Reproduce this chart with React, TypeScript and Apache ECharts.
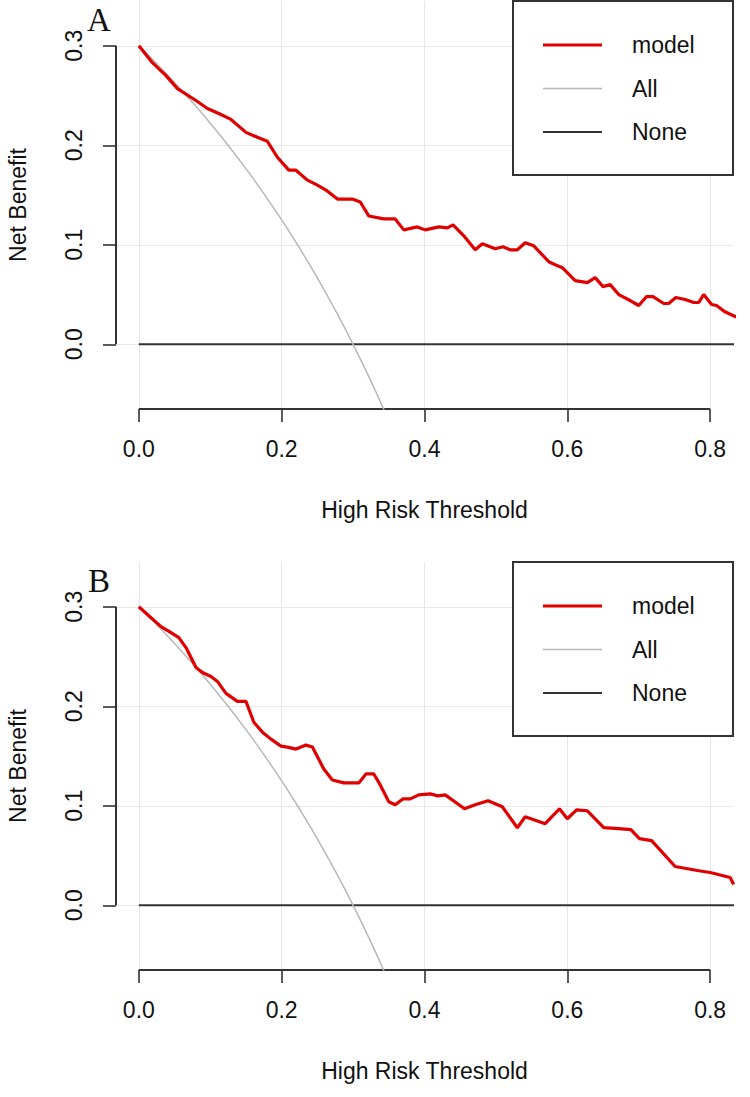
import React, { useEffect, useRef } from "react";
import * as echarts from "echarts";

// ---------- data ----------
const xTicks = [0, 0.2, 0.4, 0.6, 0.8];
const yTicks = [0, 0.1, 0.2, 0.3];
const panelLabels = ["A", "B"];
const legendNames = ["model", "All", "None"];
const xAxisTitle = "High Risk Threshold";
const yAxisTitle = "Net Benefit";

const modelAX = [0.0, 0.019, 0.038, 0.054, 0.08, 0.096, 0.112, 0.129, 0.15, 0.166, 0.18, 0.194, 0.21, 0.22, 0.236, 0.25, 0.262, 0.278, 0.299, 0.31, 0.322, 0.343, 0.359, 0.371, 0.39, 0.401, 0.42, 0.432, 0.44, 0.455, 0.471, 0.481, 0.499, 0.51, 0.52, 0.53, 0.541, 0.553, 0.574, 0.583, 0.593, 0.611, 0.628, 0.639, 0.65, 0.66, 0.672, 0.688, 0.7, 0.711, 0.72, 0.735, 0.742, 0.752, 0.765, 0.777, 0.784, 0.791, 0.802, 0.809, 0.82, 0.832, 0.838];
const modelAY = [0.3, 0.283, 0.27, 0.257, 0.245, 0.237, 0.232, 0.226, 0.213, 0.208, 0.204, 0.188, 0.175, 0.175, 0.165, 0.16, 0.155, 0.146, 0.146, 0.143, 0.129, 0.126, 0.126, 0.115, 0.118, 0.115, 0.118, 0.117, 0.12, 0.109, 0.095, 0.101, 0.096, 0.098, 0.095, 0.095, 0.102, 0.099, 0.083, 0.08, 0.077, 0.064, 0.062, 0.067, 0.058, 0.06, 0.05, 0.044, 0.039, 0.048, 0.048, 0.041, 0.041, 0.047, 0.045, 0.042, 0.042, 0.05, 0.04, 0.039, 0.033, 0.029, 0.027];

const modelBX = [0.0, 0.017, 0.031, 0.045, 0.056, 0.066, 0.08, 0.089, 0.101, 0.11, 0.122, 0.138, 0.15, 0.161, 0.173, 0.185, 0.199, 0.208, 0.22, 0.234, 0.243, 0.259, 0.271, 0.287, 0.308, 0.318, 0.329, 0.338, 0.35, 0.359, 0.37, 0.38, 0.392, 0.408, 0.419, 0.429, 0.456, 0.471, 0.489, 0.509, 0.53, 0.541, 0.569, 0.589, 0.6, 0.613, 0.628, 0.651, 0.672, 0.689, 0.701, 0.718, 0.751, 0.782, 0.8, 0.828, 0.833];
const modelBY = [0.3, 0.289, 0.28, 0.274, 0.269, 0.259, 0.239, 0.234, 0.23, 0.225, 0.213, 0.205, 0.205, 0.184, 0.174, 0.167, 0.16, 0.159, 0.157, 0.161, 0.159, 0.137, 0.126, 0.123, 0.123, 0.132, 0.132, 0.121, 0.104, 0.101, 0.107, 0.107, 0.111, 0.112, 0.11, 0.111, 0.097, 0.101, 0.105, 0.099, 0.078, 0.089, 0.082, 0.097, 0.087, 0.096, 0.095, 0.078, 0.077, 0.076, 0.067, 0.065, 0.039, 0.035, 0.033, 0.028, 0.021];

const allX = [0, 0.025, 0.05, 0.075, 0.1, 0.125, 0.15, 0.175, 0.2, 0.225, 0.25, 0.275, 0.3, 0.325, 0.35];
const allY = [0.3, 0.2821, 0.2632, 0.2432, 0.2222, 0.2, 0.1765, 0.1515, 0.125, 0.0968, 0.0667, 0.0345, 0, -0.037, -0.0769];

const noneX = [0, 0.84];
const noneY = [0, 0];

// ---------- layout & style ----------
const GRID_LEFT = 116;
const GRID_W = 617;
const GRID_H = 408;
const GRID_TOPS = [1, 562];
const X_MIN = -0.032;
const X_MAX = 0.832;
const Y_MIN = -0.065;
const Y_MAX = 0.345;

const FONT = '"Liberation Sans", Arial, sans-serif';
const SERIF = '"Liberation Serif", "Times New Roman", serif';
const FS = 23;
const TEXT = "#111";
const AXIS = "#333";
const GRIDC = "#e8e8e8";
const RED = "#e00000";
const GRAY = "#b8b8b8";
const DARK = "#333";

const pairs = (xs: number[], ys: number[]) => xs.map((x, i) => [x, ys[i]]);

export default function App() {
  const ref = useRef<HTMLDivElement>(null);

  useEffect(() => {
    const chart = echarts.init(ref.current!, null, { renderer: "svg" });
    const panels = [
      { x: modelAX, y: modelAY },
      { x: modelBX, y: modelBY },
    ];

    const grid = GRID_TOPS.map((top) => ({
      left: GRID_LEFT,
      top,
      width: GRID_W,
      height: GRID_H,
      containLabel: false,
      outerBoundsMode: "none",
    }));

    const xAxis = panels.map((_, i) => ({
      type: "value",
      gridIndex: i,
      min: X_MIN,
      max: X_MAX,
      name: xAxisTitle,
      nameLocation: "middle",
      nameGap: 89,
      nameMoveOverlap: false,
      nameTextStyle: { fontSize: FS, color: TEXT, fontFamily: FONT },
      axisLine: { show: false, onZero: false },
      axisTick: { show: true, customValues: xTicks, length: 13, lineStyle: { color: AXIS, width: 1.6 } },
      axisLabel: {
        customValues: xTicks,
        margin: 28,
        fontSize: FS,
        color: TEXT,
        fontFamily: FONT,
        formatter: (v: number) => v.toFixed(1),
      },
      splitLine: { show: true, lineStyle: { color: GRIDC, width: 1 } },
    }));

    const yAxis = panels.map((_, i) => ({
      type: "value",
      gridIndex: i,
      min: Y_MIN,
      max: Y_MAX,
      name: yAxisTitle,
      nameLocation: "middle",
      nameGap: 87,
      nameMoveOverlap: false,
      nameTextStyle: { fontSize: FS, color: TEXT, fontFamily: FONT },
      axisLine: { show: false, onZero: false },
      axisTick: { show: true, customValues: yTicks, length: 13, lineStyle: { color: AXIS, width: 1.6 } },
      axisLabel: {
        customValues: yTicks,
        rotate: 90,
        margin: 31,
        fontSize: FS,
        color: TEXT,
        fontFamily: FONT,
        formatter: (v: number) => v.toFixed(1),
      },
      splitLine: { show: true, lineStyle: { color: GRIDC, width: 1 } },
    }));

    const series: any[] = [];
    panels.forEach((p, i) => {
      series.push({
        name: legendNames[2],
        type: "line",
        xAxisIndex: i,
        yAxisIndex: i,
        data: pairs(noneX, noneY),
        symbol: "none",
        lineStyle: { color: DARK, width: 2 },
        clip: true,
        silent: true,
      });
      series.push({
        name: legendNames[1],
        type: "line",
        xAxisIndex: i,
        yAxisIndex: i,
        data: pairs(allX, allY),
        symbol: "none",
        smooth: true,
        lineStyle: { color: GRAY, width: 1.5 },
        clip: true,
        silent: true,
      });
      series.push({
        name: legendNames[0],
        type: "line",
        xAxisIndex: i,
        yAxisIndex: i,
        data: pairs(p.x, p.y),
        symbol: "none",
        lineStyle: { color: RED, width: 3.2 },
        clip: true,
        silent: true,
      });
    });

    chart.setOption({
      animation: false,
      backgroundColor: "#fff",
      grid,
      xAxis,
      yAxis,
      series,
    });

    const graphics: any[] = [];
    const legendColors = [RED, GRAY, DARK];
    const legendWidths = [3.2, 1.5, 2];
    panels.forEach((_, i) => {
      const g = { gridIndex: i };
      const pX1 = chart.convertToPixel(g as any, [xTicks[xTicks.length - 1], Y_MIN]) as number[];
      const pX0 = chart.convertToPixel(g as any, [xTicks[0], Y_MIN]) as number[];
      const pY0 = chart.convertToPixel(g as any, [X_MIN, yTicks[0]]) as number[];
      const pY1 = chart.convertToPixel(g as any, [X_MIN, yTicks[yTicks.length - 1]]) as number[];
      const pTR = chart.convertToPixel(g as any, [X_MAX, Y_MAX]) as number[];

      // detached R-style axis lines
      graphics.push({
        type: "line",
        shape: { x1: pX0[0], y1: pX0[1], x2: pX1[0], y2: pX1[1] },
        style: { stroke: AXIS, lineWidth: 2 },
        silent: true,
      });
      graphics.push({
        type: "line",
        shape: { x1: pY0[0], y1: pY0[1], x2: pY1[0], y2: pY1[1] },
        style: { stroke: AXIS, lineWidth: 2 },
        silent: true,
      });

      // legend box
      const boxW = 220;
      const boxH = 174;
      const bx = pTR[0] - boxW;
      const by = pTR[1];
      graphics.push({
        type: "rect",
        shape: { x: bx, y: by, width: boxW, height: boxH },
        style: { fill: "#fff", stroke: AXIS, lineWidth: 2 },
        silent: true,
        z: 100,
      });
      const rows = [44, 87.5, 131];
      legendNames.forEach((nm, k) => {
        graphics.push({
          type: "line",
          shape: { x1: bx + 30, y1: by + rows[k], x2: bx + 89, y2: by + rows[k] },
          style: { stroke: legendColors[k], lineWidth: legendWidths[k] },
          silent: true,
          z: 101,
        });
        graphics.push({
          type: "text",
          x: bx + 119,
          y: by + rows[k],
          style: {
            text: nm,
            fontSize: FS,
            fontFamily: FONT,
            fill: TEXT,
            verticalAlign: "middle",
            textAlign: "left",
          },
          silent: true,
          z: 101,
        });
      });

      // panel label
      graphics.push({
        type: "text",
        x: pY0[0] - 17,
        y: by + 19,
        style: {
          text: panelLabels[i],
          fontSize: 33,
          fontFamily: SERIF,
          fill: TEXT,
          textAlign: "center",
          verticalAlign: "middle",
        },
        silent: true,
        z: 101,
      });
    });

    chart.setOption({ graphic: graphics });

    return () => {
      chart.dispose();
    };
  }, []);

  return (
    <div
      ref={ref}
      style={{ position: "fixed", left: 0, top: 0, width: 750, height: 1097, background: "#fff" }}
    />
  );
}
